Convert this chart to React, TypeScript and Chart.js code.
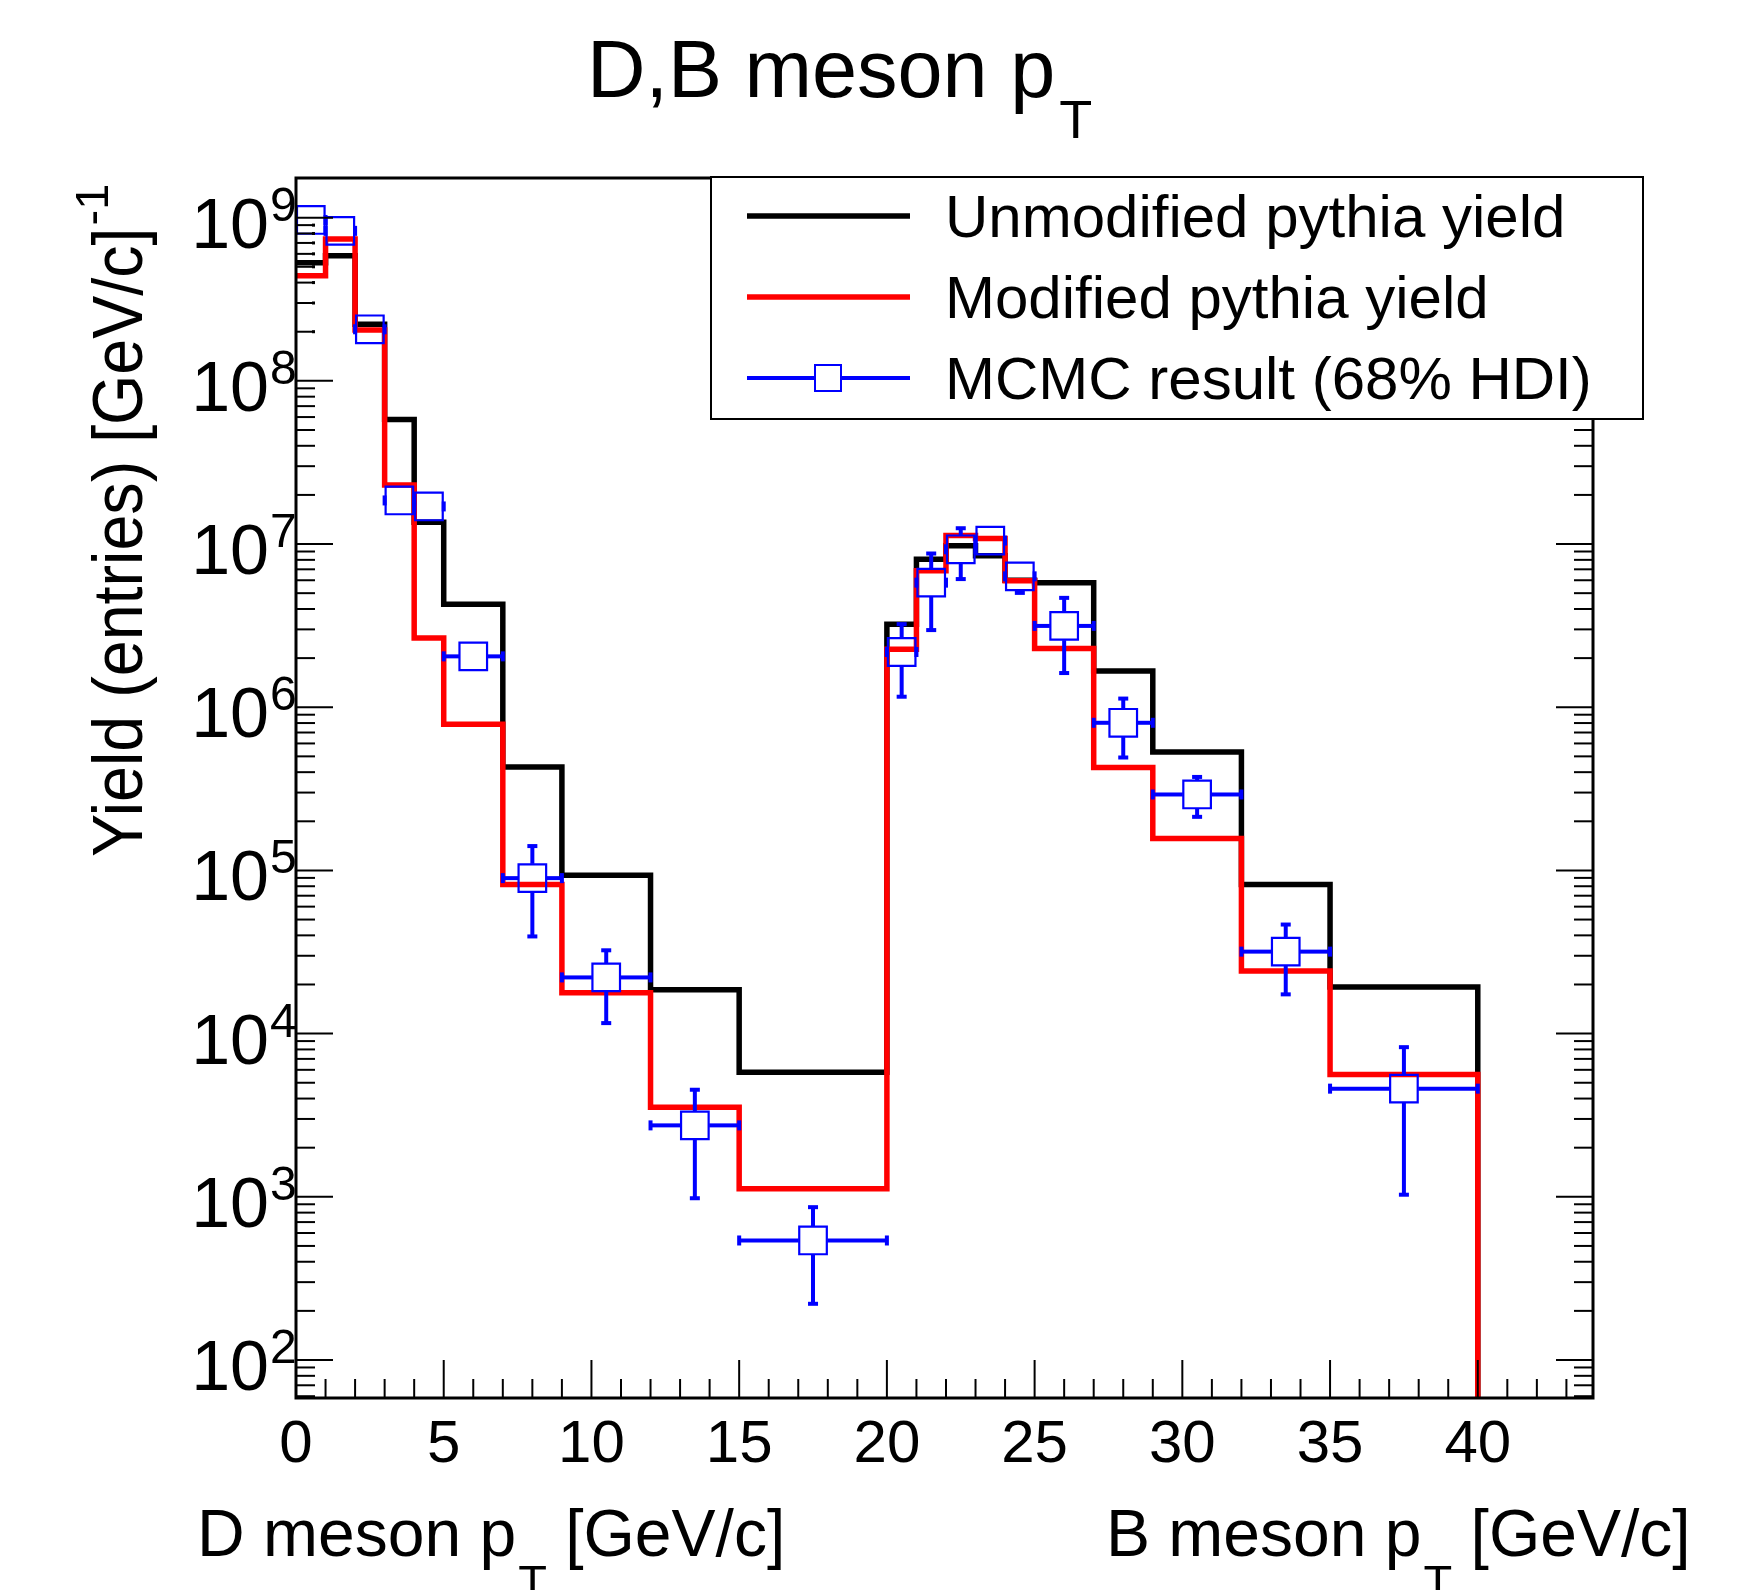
import React, { useEffect, useRef } from "react";
import { Chart, registerables } from "chart.js";

Chart.register(...registerables);

// ---- data ----
const binEdges = [0, 1, 2, 3, 4, 5, 7, 9, 12, 15, 20, 21, 22, 23, 24, 25, 27, 29, 32, 35, 40];
const unmodifiedYield = [5.3e8, 5.85e8, 2.22e8, 5.8e7, 1.36e7, 4.28e6, 4.3e5, 9.33e4, 1.86e4, 5.8e3,
  3.23e6, 8.07e6, 9.75e6, 8.47e6, 6.0e6, 5.8e6, 1.67e6, 5.32e5, 8.2e4, 1.93e4];
const modifiedYield = [4.4e8, 7.4e8, 2.05e8, 2.3e7, 2.66e6, 7.87e5, 8.2e4, 1.78e4, 3.54e3, 1.12e3,
  2.27e6, 6.85e6, 1.13e7, 1.08e7, 5.95e6, 2.29e6, 4.27e5, 1.57e5, 2.42e4, 5.62e3];
const mcmcValue = [9.68e8, 8.3e8, 2.07e8, 1.85e7, 1.7e7, 2.05e6, 8.97e4, 2.21e4, 2.74e3, 540,
  2.18e6, 5.8e6, 9.29e6, 1.05e7, 6.34e6, 3.15e6, 8.03e5, 2.92e5, 3.18e4, 4.6e3];
const mcmcUpper = [1.05e9, 9.0e8, 2.25e8, 2.0e7, 1.85e7, 2.2e6, 1.41e5, 3.24e4, 4.53e3, 864,
  3.23e6, 8.75e6, 1.25e7, 1.12e7, 6.8e6, 4.68e6, 1.13e6, 3.74e5, 4.66e4, 8.26e3];
const mcmcLower = [8.9e8, 7.6e8, 1.9e8, 1.7e7, 1.55e7, 1.9e6, 3.94e4, 1.16e4, 980, 221,
  1.16e6, 2.97e6, 6.1e6, 9.8e6, 5.02e6, 1.62e6, 4.92e5, 2.13e5, 1.74e4, 1.03e3];
const xTickLabels = [0, 5, 10, 15, 20, 25, 30, 35, 40];
const yDecades = [2, 3, 4, 5, 6, 7, 8, 9];
const seriesLabels = ["Unmodified pythia yield", "Modified pythia yield", "MCMC result (68% HDI)"];

const X_MIN = 0;
const X_MAX = 43.9;
const Y_MIN = 58.5;
const Y_MAX = 1.75e9;

const FONT = '"Liberation Sans", Arial, Helvetica, sans-serif';

function stepPoints(edges: number[], vals: number[]) {
  const pts = vals.map((v, i) => ({ x: edges[i], y: v }));
  pts.push({ x: edges[edges.length - 1], y: vals[vals.length - 1] });
  pts.push({ x: edges[edges.length - 1], y: 1 });
  return pts;
}

function text(ctx: CanvasRenderingContext2D, s: string, x: number, y: number, size: number,
  align: CanvasTextAlign = "left", sx = 1): number {
  ctx.save();
  ctx.font = `${size}px ${FONT}`;
  ctx.translate(x, y);
  ctx.scale(sx, 1);
  ctx.textAlign = align;
  ctx.textBaseline = "alphabetic";
  ctx.fillStyle = "#000";
  ctx.fillText(s, 0, 0);
  const w = ctx.measureText(s).width * sx;
  ctx.restore();
  return w;
}

const SQ_HALF = 14.3;

const errorBarPlugin = {
  id: "errorBars",
  afterDatasetsDraw(chart: any) {
    const ctx: CanvasRenderingContext2D = chart.ctx;
    const xs = chart.scales.x;
    const ys = chart.scales.y;
    ctx.save();
    ctx.beginPath();
    ctx.rect(chart.chartArea.left, chart.chartArea.top, chart.chartArea.right - chart.chartArea.left,
      chart.chartArea.bottom - chart.chartArea.top);
    ctx.clip();
    ctx.strokeStyle = "#0000ff";
    ctx.fillStyle = "#0000ff";
    ctx.lineWidth = 4;
    mcmcValue.forEach((v, i) => {
      const c = (binEdges[i] + binEdges[i + 1]) / 2;
      const cx = xs.getPixelForValue(c);
      const cy = ys.getPixelForValue(v);
      const x0 = xs.getPixelForValue(binEdges[i]);
      const x1 = xs.getPixelForValue(binEdges[i + 1]);
      const yu = ys.getPixelForValue(mcmcUpper[i]);
      const yl = ys.getPixelForValue(mcmcLower[i]);
      const seg = (ax: number, ay: number, bx: number, by: number) => {
        ctx.beginPath();
        ctx.moveTo(ax, ay);
        ctx.lineTo(bx, by);
        ctx.stroke();
      };
      if (x0 < cx - SQ_HALF + 1) {
        seg(x0, cy, cx - SQ_HALF, cy);
        ctx.fillRect(x0 - 2, cy - 5, 4, 10);
      }
      if (x1 > cx + SQ_HALF - 1) {
        seg(cx + SQ_HALF, cy, x1, cy);
        ctx.fillRect(x1 - 2, cy - 5, 4, 10);
      }
      if (yu < cy - SQ_HALF + 1) {
        seg(cx, cy - SQ_HALF, cx, yu);
        ctx.fillRect(cx - 5, yu - 2, 10, 4);
      }
      if (yl > cy + SQ_HALF - 1) {
        seg(cx, cy + SQ_HALF, cx, yl);
        ctx.fillRect(cx - 5, yl - 2, 10, 4);
      }
    });
    ctx.restore();
  },
};

const framePlugin = {
  id: "rootFrame",
  afterDraw(chart: any) {
    const ctx: CanvasRenderingContext2D = chart.ctx;
    const xs = chart.scales.x;
    const ys = chart.scales.y;
    const { left, right, top, bottom } = chart.chartArea;
    ctx.save();
    ctx.strokeStyle = "#000";
    ctx.fillStyle = "#000";
    const seg = (ax: number, ay: number, bx: number, by: number) => {
      ctx.beginPath();
      ctx.moveTo(ax, ay);
      ctx.lineTo(bx, by);
      ctx.stroke();
    };
    // x ticks (bottom, inward)
    ctx.lineWidth = 2;
    for (let v = Math.ceil(X_MIN); v <= X_MAX; v++) {
      const px = xs.getPixelForValue(v);
      const len = v % 5 === 0 ? 38 : 19;
      seg(px, bottom, px, bottom - len);
    }
    // y ticks (left and right, inward)
    for (let d = 1; d <= 9; d++) {
      for (let m = 1; m <= 9; m++) {
        const val = m * Math.pow(10, d);
        if (val < Y_MIN || val > Y_MAX) continue;
        const py = ys.getPixelForValue(val);
        const len = m === 1 ? 37 : 19;
        seg(left, py, left + len, py);
        seg(right, py, right - len, py);
        if (d === 8 && m > 1) ctx.fillRect(left + 16, py - 1.5, 3, 3);
      }
    }
    // frame
    ctx.lineWidth = 3;
    ctx.strokeRect(left, top, right - left, bottom - top);

    // x tick labels
    xTickLabels.forEach((v) => {
      text(ctx, String(v), xs.getPixelForValue(v), 1462, 60, "center");
    });
    // y tick labels 10^n
    yDecades.forEach((d) => {
      const py = ys.getPixelForValue(Math.pow(10, d));
      text(ctx, "10", 269, py + 30, 70, "right");
      text(ctx, String(d), 270, py + 3, 48, "left");
    });

    // axis titles (x)
    const drawXTitle = (prefix: string, x0: number) => {
      const base = 1556;
      let x = x0;
      x += text(ctx, prefix + " p", x, base, 66);
      x += text(ctx, "T", x + 2, base + 42, 47) + 2;
      text(ctx, " [GeV/c]", x, base, 66);
    };
    drawXTitle("D meson", 197);
    drawXTitle("B meson", 1106);

    // y title (rotated)
    ctx.save();
    ctx.translate(142, 857);
    ctx.rotate(-Math.PI / 2);
    const w = text(ctx, "Yield (entries) [GeV/c]", 0, 0, 71, "left", 0.91);
    text(ctx, "-1", w + 2, -34, 47, "left");
    ctx.restore();

    // title
    const tw = text(ctx, "D,B meson p", 587, 97, 81);
    text(ctx, "T", 587 + tw + 4, 138, 54);

    // legend
    const lx0 = 711, ly0 = 177, lx1 = 1643, ly1 = 419;
    ctx.fillStyle = "#fff";
    ctx.fillRect(lx0, ly0, lx1 - lx0, ly1 - ly0);
    ctx.lineWidth = 2;
    ctx.strokeStyle = "#000";
    ctx.strokeRect(lx0, ly0, lx1 - lx0, ly1 - ly0);
    const rows = [216, 297, 378];
    const colors = ["#000000", "#ff0000", "#0000ff"];
    rows.forEach((ry, i) => {
      ctx.strokeStyle = colors[i];
      ctx.lineWidth = i === 2 ? 4 : 5.5;
      seg(747, ry, 910, ry);
      text(ctx, seriesLabels[i], 945, ry + 21, 60);
    });
    // legend marker square
    ctx.fillStyle = "#fff";
    ctx.fillRect(828 - 13, 378 - 13, 26, 26);
    ctx.strokeStyle = "#0000ff";
    ctx.lineWidth = 2;
    ctx.strokeRect(828 - 13, 378 - 13, 26, 26);
    ctx.restore();
  },
};

export default function App() {
  const ref = useRef<HTMLCanvasElement | null>(null);
  useEffect(() => {
    if (!ref.current) return;
    const chart = new Chart(ref.current, {
      type: "scatter",
      data: {
        datasets: [
          {
            type: "line",
            label: seriesLabels[0],
            data: stepPoints(binEdges, unmodifiedYield),
            stepped: "before",
            showLine: true,
            borderColor: "#000000",
            borderWidth: 5.5,
            pointRadius: 0,
            fill: false,
            borderJoinStyle: "miter",
            borderCapStyle: "butt",
            order: 3,
          } as any,
          {
            type: "line",
            label: seriesLabels[1],
            data: stepPoints(binEdges, modifiedYield),
            stepped: "before",
            showLine: true,
            borderColor: "#ff0000",
            borderWidth: 5.5,
            pointRadius: 0,
            fill: false,
            borderJoinStyle: "miter",
            borderCapStyle: "butt",
            order: 2,
          } as any,
          {
            type: "scatter",
            label: seriesLabels[2],
            data: mcmcValue.map((v, i) => ({ x: (binEdges[i] + binEdges[i + 1]) / 2, y: v })),
            pointStyle: "rect",
            pointRadius: 19.5,
            pointHoverRadius: 19.5,
            borderColor: "#0000ff",
            backgroundColor: "rgba(0,0,0,0)",
            borderWidth: 2.2,
            order: 1,
          } as any,
        ],
      },
      options: {
        animation: false,
        responsive: false,
        devicePixelRatio: 1,
        layout: { padding: { left: 296, top: 178, right: 164, bottom: 192 } },
        scales: {
          x: { type: "linear", min: X_MIN, max: X_MAX, display: false },
          y: { type: "logarithmic", min: Y_MIN, max: Y_MAX, display: false },
        },
        plugins: {
          legend: { display: false },
          title: { display: false },
          tooltip: { enabled: false },
        },
        events: [],
      } as any,
      plugins: [errorBarPlugin, framePlugin],
    });
    return () => chart.destroy();
  }, []);

  return (
    <div style={{ position: "fixed", left: 0, top: 0, width: 1757, height: 1590, background: "#fff" }}>
      <canvas ref={ref} width={1757} height={1590} style={{ width: 1757, height: 1590, display: "block" }} />
    </div>
  );
}
